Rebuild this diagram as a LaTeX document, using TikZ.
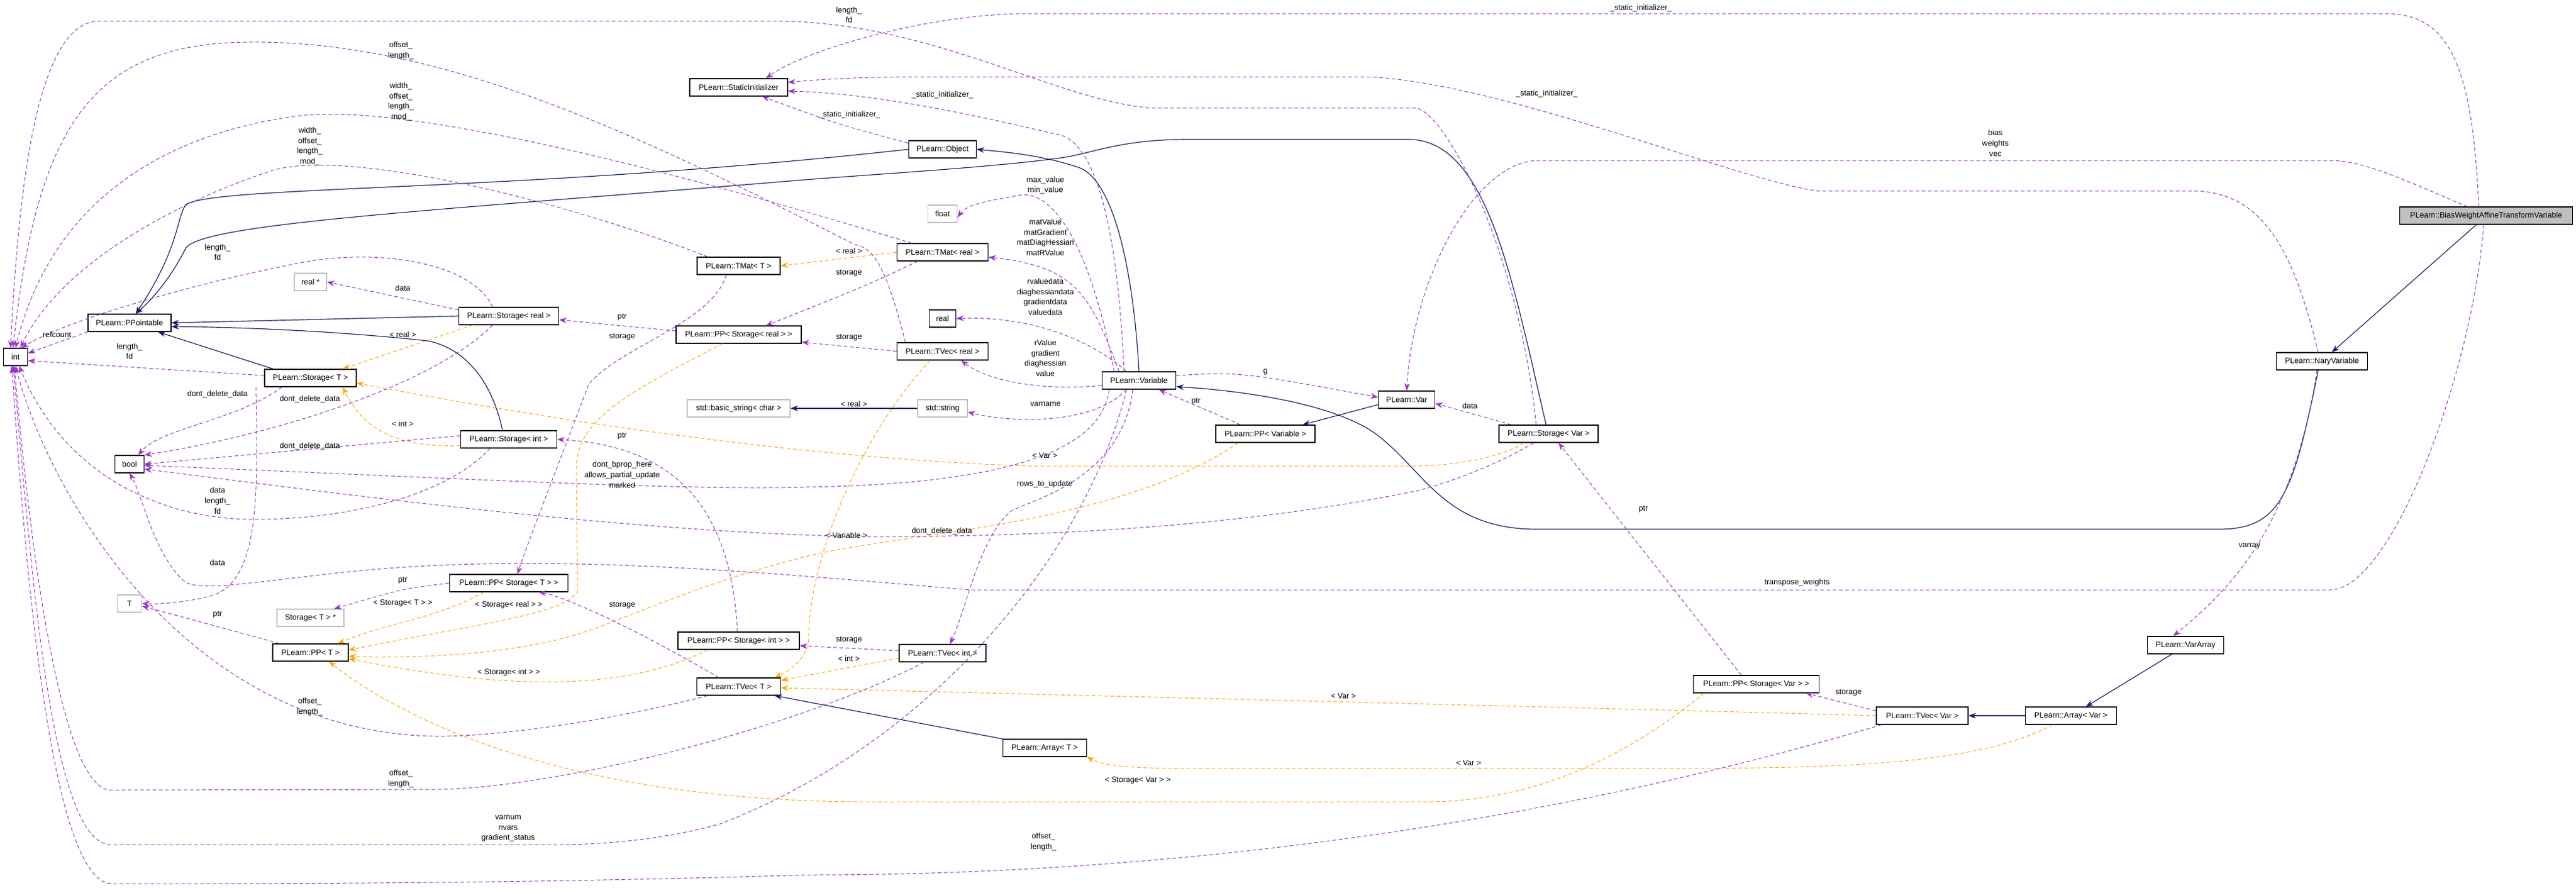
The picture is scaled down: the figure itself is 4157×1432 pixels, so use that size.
\documentclass[tikz,border=0pt]{standalone}
\usepackage{fontspec}
\setmainfont{Liberation Sans}
\usetikzlibrary{arrows.meta}
\definecolor{mem}{RGB}{154,50,205}
\definecolor{inh}{RGB}{25,25,112}
\definecolor{tpl}{RGB}{255,165,0}
\begin{document}
\begin{tikzpicture}[x=0.5pt,y=-0.5pt,
  every node/.style={font=\fontsize{6.3}{8.3}\selectfont},
  box/.style={draw=black,fill=white,line width=0.6pt,minimum height=14pt,inner sep=1pt},
  gbox/.style={draw=black!25,fill=white,line width=0.6pt,minimum height=14pt,inner sep=1pt},
  hbox/.style={draw=black,fill=black!25,line width=0.6pt,minimum height=14pt,inner sep=1pt},
  lab/.style={align=center,inner sep=0pt},
  inhe/.style={draw=inh,line width=0.6pt,-{Stealth[length=6pt,width=4.5pt]}},
  memb/.style={draw=mem,line width=0.5pt,dashed,dash pattern=on 3pt off 2pt,-{Stealth[length=6pt,width=4.5pt]}},
  tmpl/.style={draw=tpl,line width=0.5pt,dash pattern=on 3pt off 2pt,-{Stealth[length=6pt,width=4.5pt]}}]
\useasboundingbox (0,0) rectangle (4157,1432);
% nodes
\node[box,minimum width=19.5pt] (int) at (25,576) {int};
\node[box,minimum width=67pt] (PPo) at (209,521) {PLearn::PPointable};
\node[box,minimum width=23.5pt] (bool) at (209,749) {bool};
\node[gbox,minimum width=19.5pt] (T) at (209,974) {T};
\node[gbox,minimum width=26pt] (rs) at (501,455) {real *};
\node[box,minimum width=80.5pt] (SR) at (821,510) {PLearn::Storage\textless{} real \textgreater};
\node[box,minimum width=74pt] (ST) at (501,610) {PLearn::Storage\textless{} T \textgreater};
\node[box,minimum width=77.5pt] (SI) at (821,709) {PLearn::Storage\textless{} int \textgreater};
\node[gbox,minimum width=54pt] (SS) at (501,997) {Storage\textless{} T \textgreater{} *};
\node[box,minimum width=95.5pt] (PPST) at (821,941) {PLearn::PP\textless{} Storage\textless{} T \textgreater{} \textgreater};
\node[box,minimum width=61pt] (PPT) at (501,1053) {PLearn::PP\textless{} T \textgreater};
\node[box,minimum width=79pt] (StI) at (1192,141) {PLearn::StaticInitializer};
\node[box,minimum width=67pt] (TMT) at (1192,429) {PLearn::TMat\textless{} T \textgreater};
\node[box,minimum width=101pt] (PPSR) at (1192,540) {PLearn::PP\textless{} Storage\textless{} real \textgreater{} \textgreater};
\node[gbox,minimum width=83pt] (bstr) at (1192,659) {std::basic\_string\textless{} char \textgreater};
\node[box,minimum width=98pt] (PPSI) at (1192,1034) {PLearn::PP\textless{} Storage\textless{} int \textgreater{} \textgreater};
\node[box,minimum width=67.5pt] (TVT) at (1192,1108) {PLearn::TVec\textless{} T \textgreater};
\node[box,minimum width=54.5pt] (Obj) at (1521,241) {PLearn::Object};
\node[gbox,minimum width=23.5pt] (flt) at (1521,345) {float};
\node[box,minimum width=73.5pt] (TMR) at (1521,407) {PLearn::TMat\textless{} real \textgreater};
\node[box,minimum width=21.5pt] (rl) at (1521,514) {real};
\node[box,minimum width=73.5pt] (TVR) at (1521,567) {PLearn::TVec\textless{} real \textgreater};
\node[gbox,minimum width=40pt] (str) at (1521,659) {std::string};
\node[box,minimum width=70pt] (TVI) at (1521,1054) {PLearn::TVec\textless{} int \textgreater};
\node[box,minimum width=67.5pt] (ArT) at (1686,1207) {PLearn::Array\textless{} T \textgreater};
\node[box,minimum width=59.5pt] (Var) at (1838,614) {PLearn::Variable};
\node[box,minimum width=45.5pt] (V) at (2270,645) {PLearn::Var};
\node[box,minimum width=80pt] (PPV) at (2042,700) {PLearn::PP\textless{} Variable \textgreater};
\node[box,minimum width=80pt] (SV) at (2499,700) {PLearn::Storage\textless{} Var \textgreater};
\node[box,minimum width=101.5pt] (PPSV) at (2834,1104) {PLearn::PP\textless{} Storage\textless{} Var \textgreater{} \textgreater};
\node[box,minimum width=74pt] (TVV) at (3102,1155) {PLearn::TVec\textless{} Var \textgreater};
\node[box,minimum width=73.5pt] (ArV) at (3342,1155) {PLearn::Array\textless{} Var \textgreater};
\node[box,minimum width=61.5pt] (VA) at (3527,1041) {PLearn::VarArray};
\node[box,minimum width=73.5pt] (NV) at (3747,583) {PLearn::NaryVariable};
\node[hbox,minimum width=139.5pt] (BW) at (4012,348) {PLearn::BiasWeightAffineTransformVariable};
% inheritance
\draw[inhe] ([xshift=-8pt]BW.south) -- ([xshift=8pt]NV.north);
\draw[inhe] ([xshift=-3pt]NV.south) .. controls (3700,800) and (3680,854) .. (3580,854) -- (2480,854) .. controls (2330,854) and (2300,760) .. (2220,700) .. controls (2150,650) and (2000,630) .. ([yshift=-5pt]Var.east);
\draw[inhe] (Var.north) .. controls (1830,450) and (1800,290) .. (1740,270) .. controls (1680,250) and (1620,245) .. (Obj.east);
\draw[inhe] (Obj.west) -- (1400,248) .. controls (800,310) and (350,300) .. (300,330) .. controls (285,350) and (290,400) .. ([xshift=5pt]PPo.north);
\draw[inhe] ([xshift=-2pt]SV.north) .. controls (2440,450) and (2400,225) .. (2273,225) -- (1916,225) .. controls (1800,225) and (1760,250) .. (1702,256) .. controls (1600,270) and (1400,282) .. (1300,290) .. controls (700,340) and (330,360) .. (300,400) .. controls (285,430) and (260,470) .. ([xshift=5pt]PPo.north);
\draw[inhe] (SR.west) -- (PPo.east);
\draw[inhe] ([xshift=-5pt]SI.north) .. controls (790,600) and (740,560) .. (690,550) .. controls (550,535) and (400,528) .. ([yshift=-3pt]PPo.east);
\draw[inhe] ([xshift=-30pt]ST.north) -- ([xshift=23pt]PPo.south);
\draw[inhe] (str.west) -- node[lab,above=1pt] (l0) {\textless{} real \textgreater} (bstr.east);
\draw[inhe] ([yshift=-4pt]V.west) -- ([xshift=30pt]PPV.north);
\draw[inhe] (ArV.west) -- (TVV.east);
\draw[inhe] ([xshift=-11pt]VA.south) -- ([xshift=12pt]ArV.north);
\draw[inhe] (ArT.north west) .. controls (1500,1170) .. ([xshift=29pt]TVT.south);
% templates
\draw[tmpl] ([xshift=-29pt]SR.south) -- ([xshift=26pt]ST.north);
\node[lab] (t1) at (650,540) {\textless{} real \textgreater};
\draw[tmpl] ([yshift=-5pt]SI.west) .. controls (650,722) and (590,700) .. ([xshift=26pt]ST.south);
\node[lab] (t2) at (650,684) {\textless{} int \textgreater};
\draw[tmpl] ([xshift=-20pt]SV.south) .. controls (2420,740) and (2340,752) .. (2280,752) -- (1660,752) .. controls (1300,740) and (900,680) .. ([yshift=-4pt]ST.east);
\node[lab] (t3) at (1686,735) {\textless{} Var \textgreater};
\draw[tmpl] (TMR.west) -- (TMT.east);
\node[lab] (t4) at (1370,405) {\textless{} real \textgreater};
\draw[tmpl] ([xshift=-13pt]PPSR.south) .. controls (1000,640) and (929,680) .. (930,760) -- (932,950) .. controls (930,990) and (750,1010) .. ([yshift=2pt]PPT.east);
\node[lab] (t5) at (821,976) {\textless{} Storage\textless{} real \textgreater{} \textgreater};
\draw[tmpl] ([xshift=-20pt]PPST.south) .. controls (700,1000) and (640,1000) .. ([xshift=22pt]PPT.north);
\node[lab] (t6) at (650,973) {\textless{} Storage\textless{} T \textgreater{} \textgreater};
\draw[tmpl] ([xshift=-25pt]PPSI.south) .. controls (1000,1120) and (800,1110) .. ([yshift=-5pt]PPT.east);
\node[lab] (t7) at (821,1085) {\textless{} Storage\textless{} int \textgreater{} \textgreater};
\draw[tmpl] ([xshift=-22pt]PPV.south) .. controls (1800,850) and (1450,860) .. (1300,898) .. controls (1100,950) and (1000,1005) .. (920,1027) .. controls (800,1060) and (650,1062) .. ([yshift=-3pt]PPT.east);
\node[lab] (t8) at (1366,864) {\textless{} Variable \textgreater};
\draw[tmpl] ([xshift=-42pt]PPSV.south) .. controls (2650,1200) and (2500,1294) .. (2300,1294) -- (1400,1294) .. controls (1000,1294) and (700,1200) .. ([xshift=15pt]PPT.south);
\node[lab] (t9) at (1836,1259) {\textless{} Storage\textless{} Var \textgreater{} \textgreater};
\draw[tmpl] ([xshift=-10pt]TVR.south) .. controls (1390,700) and (1305,900) .. (1305,1030) .. controls (1303,1060) and (1280,1080) .. ([xshift=29pt]TVT.north);
\draw[tmpl] ([yshift=-4pt]TVI.west) -- ([yshift=5pt]TVT.east);
\node[lab] (t10) at (1370,1063) {\textless{} int \textgreater};
\draw[tmpl] (TVV.west) .. controls (2700,1146) .. ([yshift=-1pt]TVT.east);
\node[lab] (t11) at (2168,1123) {\textless{} Var \textgreater};
\draw[tmpl] ([xshift=-15pt]ArV.south) .. controls (3200,1230) and (3000,1240) .. (2700,1240) -- (1916,1240) .. controls (1820,1240) and (1780,1235) .. (ArT.south east);
\node[lab] (t12) at (2370,1231) {\textless{} Var \textgreater};
% members
\draw[memb] ([yshift=5pt]SR.west) -- (rs.east);
\node[lab] (m1) at (650,465) {data};
\draw[memb] ([xshift=-13pt]SR.north) .. controls (760,420) and (600,400) .. (480,425) .. controls (300,460) and (100,520) .. ([xshift=5pt]int.north);
\node[lab] (m2) at (351,407) {length\_\\fd};
\draw[memb] ([xshift=-23pt]ST.south) .. controls (380,680) and (260,690) .. ([xshift=7pt]bool.north);
\node[lab] (m3) at (351,636) {dont\_delete\_data};
\draw[memb] ([xshift=-13pt]SR.south) .. controls (700,620) and (450,700) .. (bool.north east);
\node[lab] (m4) at (500,644) {dont\_delete\_data};
\draw[memb] ([yshift=3pt]SI.west) -- (bool.east);
\node[lab] (m5) at (500,720) {dont\_delete\_data};
\draw[memb] ([xshift=-15pt]SI.south) .. controls (700,820) and (500,840) .. (400,838) .. controls (250,835) and (100,760) .. ([xshift=3pt]int.south);
\node[lab] (m6) at (351,808) {data\\length\_\\fd};
\draw[memb] ([xshift=-44pt]ST.south) .. controls (416,800) and (420,940) .. (339,962) .. controls (300,972) and (260,975) .. (T.east);
\node[lab] (m7) at (351,908) {data};
\draw[memb] ([yshift=2pt]ST.west) -- ([yshift=-3pt]int.east);
\node[lab] (m8) at (209,567) {length\_\\fd};
\draw[memb] (PPo.south west) -- ([yshift=3pt]int.east);
\node[lab] (m9) at (92,540) {refcount};
\draw[memb] ([xshift=-25pt]PPT.north) -- ([yshift=-2pt]T.east);
\node[lab] (m10) at (351,992) {ptr};
\draw[memb] (PPST.west) .. controls (650,950) .. ([xshift=19pt]SS.north);
\node[lab] (m11) at (650,937) {ptr};
\draw[memb] ([yshift=3pt]PPSR.west) -- ([yshift=-3pt]SR.east);
\node[lab] (m12) at (1004,512) {ptr};
\draw[memb] ([xshift=-1pt]PPSI.north) .. controls (1180,830) and (1100,720) .. (SI.east);
\node[lab] (m13) at (1004,704) {ptr};
\draw[memb] ([xshift=-20pt]PPV.north) -- ([xshift=16pt]Var.south);
\node[lab] (m14) at (1930,648) {ptr};
\draw[memb] ([xshift=-12pt]PPSV.north) -- ([xshift=8pt]SV.south);
\node[lab] (m15) at (2652,822) {ptr};
\draw[memb] ([xshift=-30pt]SV.north) -- ([yshift=-3pt]V.east);
\node[lab] (m16) at (2372,655) {data};
\draw[memb] ([yshift=4pt]Var.east) .. controls (2000,600) .. ([yshift=2pt]V.west);
\node[lab] (m17) at (2042,600) {g};
\draw[memb] ([xshift=-25pt]TMT.north) .. controls (900,320) and (560,240) .. (440,275) .. controls (300,320) and (100,420) .. ([xshift=4pt]int.north);
\node[lab] (m18) at (500,236) {width\_\\offset\_\\length\_\\mod\_};
\draw[memb] ([xshift=-25pt]TMR.north) .. controls (1300,340) and (700,160) .. (482,187) .. controls (300,210) and (90,300) .. (int.north);
\node[lab] (m19) at (647,164) {width\_\\offset\_\\length\_\\mod\_};
\draw[memb] ([xshift=-30pt]TVR.north) .. controls (1430,430) and (1410,400) .. (1380,395) .. controls (1000,200) and (700,65) .. (400,68) .. controls (150,70) and (60,200) .. ([xshift=-2pt]int.north);
\node[lab] (m20) at (647,82) {offset\_\\length\_};
\draw[memb] ([xshift=-10pt]SV.north) .. controls (2450,400) and (2330,174) .. (2282,174) -- (1853,174) .. controls (1700,160) and (1500,34) .. (1250,34) -- (160,34) .. controls (60,34) and (30,300) .. ([xshift=-4pt]int.north);
\node[lab] (m21) at (1370,24) {length\_\\fd};
\draw[memb] ([xshift=-6pt]BW.north) .. controls (3990,100) and (3950,22) .. (3850,22) -- (1657,22) .. controls (1500,22) and (1300,80) .. ([xshift=22pt]StI.north);
\node[lab] (m22) at (2648,13) {\_static\_initializer\_};
\draw[memb] ([xshift=-3pt]NV.north) .. controls (3700,400) and (3650,308) .. (3536,308) -- (2932,308) .. controls (2800,290) and (2400,124) .. (2193,124) -- (1479,124) .. controls (1400,124) and (1320,128) .. ([yshift=4pt]StI.east);
\node[lab] (m23) at (2496,151) {\_static\_initializer\_};
\draw[memb] ([xshift=-12pt]Var.north) .. controls (1800,300) and (1750,220) .. (1702,216) .. controls (1550,180) and (1400,150) .. ([yshift=-3pt]StI.east);
\node[lab] (m24) at (1521,153) {\_static\_initializer\_};
\draw[memb] ([yshift=5pt]Obj.west) .. controls (1350,200) .. ([xshift=19pt]StI.south);
\node[lab] (m25) at (1371,185) {\_static\_initializer\_};
\draw[memb] ([xshift=-15pt]BW.north) .. controls (3900,300) and (3820,259) .. (3760,259) -- (2483,259) .. controls (2380,259) and (2280,450) .. (V.north);
\node[lab] (m26) at (3220,231) {bias\\weights\\vec};
\draw[memb] ([xshift=-2pt]BW.south) .. controls (3990,600) and (3860,952) .. (3760,952) -- (1568,952) .. controls (1300,930) and (1000,900) .. (714,912) .. controls (500,920) and (340,960) .. (300,940) .. controls (250,900) and (230,800) .. (bool.south);
\node[lab] (m27) at (2900,940) {transpose\_weights};
\draw[memb] ([xshift=-4pt]NV.south) .. controls (3700,850) and (3600,950) .. ([xshift=-10pt]VA.north);
\node[lab] (m28) at (3630,881) {varray};
\draw[memb] ([yshift=4pt]TVV.west) -- ([xshift=40pt]PPSV.south);
\node[lab] (m29) at (2983,1118) {storage};
\draw[memb] ([xshift=-33pt]TVV.south) .. controls (2600,1300) and (2000,1412) .. (1300,1412) .. controls (800,1427) and (400,1426) .. (179,1426) .. controls (80,1420) and (40,900) .. ([xshift=-3pt]int.south);
\node[lab] (m30) at (1684,1359) {offset\_\\length\_};
\draw[memb] ([xshift=-25pt]TVT.south) .. controls (1000,1160) and (800,1190) .. (700,1188) .. controls (300,1180) and (80,800) .. (int.south);
\node[lab] (m31) at (500,1141) {offset\_\\length\_};
\draw[memb] ([xshift=-15pt]TVI.south) .. controls (1300,1170) and (900,1274) .. (696,1274) -- (179,1275) .. controls (100,1275) and (50,900) .. ([xshift=-1pt]int.south);
\node[lab] (m32) at (647,1257) {offset\_\\length\_};
\draw[memb] ([xshift=-10pt]Var.south) .. controls (1750,900) and (1500,1200) .. (1161,1330) .. controls (1050,1360) and (950,1363) .. (893,1363) -- (179,1363) .. controls (80,1363) and (50,900) .. ([xshift=-2pt]int.south);
\node[lab] (m33) at (820,1337) {varnum\\nvars\\gradient\_status};
\draw[memb] ([xshift=-24pt]Var.south) .. controls (1780,700) and (1700,780) .. (1300,786) .. controls (1100,792) and (700,770) .. ([yshift=-1pt]bool.east);
\node[lab] (m34) at (1004,766) {dont\_bprop\_here\\allows\_partial\_update\\marked};
\draw[memb] ([xshift=-12pt]SV.south) .. controls (2400,760) and (2300,790) .. (2282,793) .. controls (2000,850) and (1700,866) .. (1400,866) .. controls (1000,860) and (500,790) .. ([yshift=-4pt]bool.east);
\node[lab] (m35) at (1520,857) {dont\_delete\_data};
\draw[memb] ([xshift=-5pt]Var.south) .. controls (1810,780) and (1650,810) .. (1630,826) .. controls (1580,870) and (1560,980) .. ([xshift=6pt]TVI.north);
\node[lab] (m36) at (1686,781) {rows\_to\_update};
\draw[memb] ([yshift=2pt]TVI.west) -- ([yshift=-4pt]PPSI.east);
\node[lab] (m37) at (1370,1033) {storage};
\draw[memb] (TVR.west) -- ([yshift=-6pt]PPSR.east);
\node[lab] (m38) at (1370,545) {storage};
\draw[memb] ([xshift=-20pt]TMR.south) .. controls (1400,460) .. ([xshift=22pt]PPSR.north);
\node[lab] (m39) at (1370,441) {storage};
\draw[memb] ([xshift=-10pt]TMT.south) .. controls (1150,520) and (1000,560) .. (950,620) .. controls (920,700) and (850,880) .. ([xshift=7pt]PPST.north);
\node[lab] (m40) at (1004,544) {storage};
\draw[memb] ([xshift=-16pt]TVT.north) .. controls (1000,1000) and (900,960) .. ([xshift=24pt]PPST.south);
\node[lab] (m41) at (1004,977) {storage};
\draw[memb] ([xshift=-20pt]Var.north) .. controls (1760,400) and (1700,300) .. (1640,316) .. controls (1590,325) and (1560,330) .. ([yshift=-3pt]flt.east);
\node[lab] (m42) at (1687,299) {max\_value\\min\_value};
\draw[memb] ([xshift=-16pt]Var.north) .. controls (1760,480) and (1740,430) .. ([yshift=-4pt]TMR.east);
\node[lab] (m43) at (1687,383) {matValue\\matGradient\\matDiagHessian\\matRValue};
\draw[memb] ([xshift=-10pt]Var.north) .. controls (1750,540) and (1650,510) .. (rl.east);
\node[lab] (m44) at (1687,479) {rvaluedata\\diaghessiandata\\gradientdata\\valuedata};
\draw[memb] ([yshift=-4pt]Var.west) .. controls (1700,630) and (1600,620) .. ([xshift=15pt]TVR.south);
\node[lab] (m45) at (1687,578) {rValue\\gradient\\diaghessian\\value};
\draw[memb] ([xshift=-10pt]Var.south) .. controls (1760,690) and (1620,680) .. ([yshift=-3pt]str.east);
\node[lab] (m46) at (1687,652) {varname};
\end{tikzpicture}
\end{document}
